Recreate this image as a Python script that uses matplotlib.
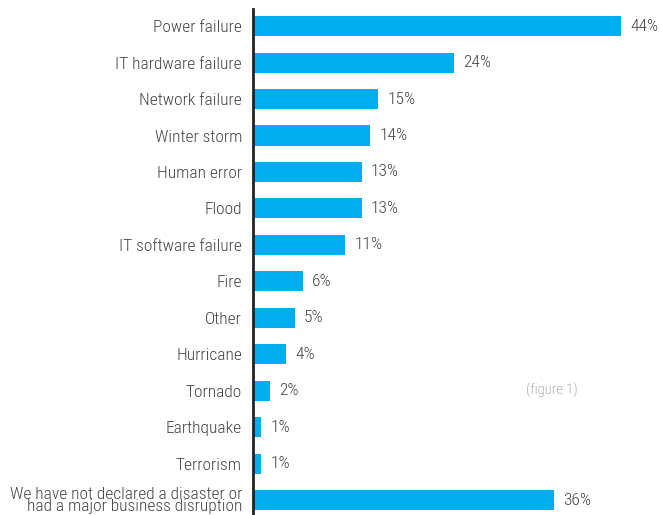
import matplotlib
matplotlib.use('Agg')
from matplotlib import pyplot as plt
import numpy as np

plt.rcParams['font.family'] = ['Roboto Condensed', 'Liberation Sans Narrow', 'Roboto', 'DejaVu Sans']

categories = ['Power failure', 'IT hardware failure', 'Network failure', 'Winter storm',
              'Human error', 'Flood', 'IT software failure', 'Fire', 'Other', 'Hurricane',
              'Tornado', 'Earthquake', 'Terrorism',
              'We have not declared a disaster or\nhad a major business disruption']
values = [44, 24, 15, 14, 13, 13, 11, 6, 5, 4, 2, 1, 1, 36]

BAR_COLOR = '#00AEEF'
TEXT_COLOR = '#444444'

fig = plt.figure(figsize=(6.62, 5.15), dpi=100)
ax = fig.add_axes([253 / 662, 0, 1 - 253 / 662, 1 - 9 / 515])

y = np.arange(len(categories))
ax.barh(y, values, height=0.55, color=BAR_COLOR)

for yi, v in zip(y, values):
    ax.text(v + 1.1, yi, f'{v}%', va='center', ha='left', fontsize=12.5,
            fontweight='light', color=TEXT_COLOR)

ax.set_yticks(y)
ax.set_yticklabels(categories, fontsize=12.5, fontweight='light', color=TEXT_COLOR,
                   linespacing=0.8)
ax.tick_params(axis='y', length=0, pad=8)
ax.set_xticks([])
ax.set_xlim(0, (662 - 253) / 8.36)
ax.set_ylim(13.41, -0.47)

for s in ['top', 'right', 'bottom']:
    ax.spines[s].set_visible(False)
ax.spines['left'].set_color('#222222')
ax.spines['left'].set_linewidth(2)

ax.text(32.6, 10.0, '(figure 1)', fontsize=10.5, fontweight='light', color='#b0b0b0',
        va='center', ha='left')

fig.savefig('out.png', dpi=100)
